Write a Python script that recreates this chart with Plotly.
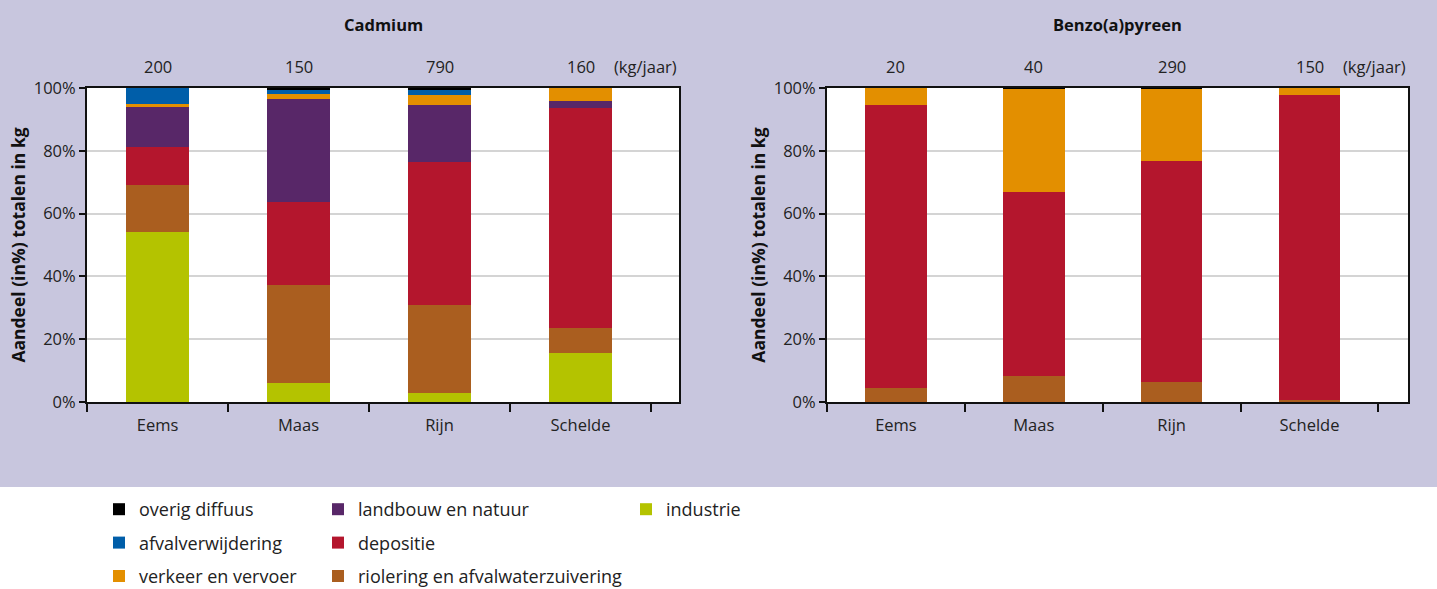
import plotly.graph_objects as go

# ---------------- data ----------------
rivers = ["Eems", "Maas", "Rijn", "Schelde"]
panel_titles = ["Cadmium", "Benzo(a)pyreen"]
cd_totals = ["200", "150", "790", "160"]
bap_totals = ["20", "40", "290", "150"]
unit_label = "(kg/jaar)"
y_title = "Aandeel (in%) totalen in kg"
y_ticks = [0, 20, 40, 60, 80, 100]
y_ticklabels = ["0%", "20%", "40%", "60%", "80%", "100%"]

# Cadmium shares (%) per river
cd_industrie = [54.0, 6.2, 3.0, 15.7]
cd_riolering = [15.0, 31.2, 28.0, 7.9]
cd_depositie = [12.2, 26.2, 45.4, 70.0]
cd_landbouw = [12.7, 32.9, 18.2, 2.2]
cd_verkeer = [1.0, 1.6, 3.2, 4.2]
cd_afval = [5.1, 1.4, 1.7, 0.0]
cd_overig = [0.0, 0.4, 0.4, 0.0]

# Benzo(a)pyreen shares (%) per river
bap_industrie = [0.0, 0.0, 0.0, 0.0]
bap_riolering = [4.4, 8.3, 6.3, 0.5]
bap_depositie = [90.2, 58.5, 70.5, 97.3]
bap_landbouw = [0.0, 0.0, 0.0, 0.0]
bap_verkeer = [5.4, 32.9, 22.9, 2.2]
bap_afval = [0.0, 0.0, 0.0, 0.0]
bap_overig = [0.0, 0.3, 0.3, 0.0]

# series: name, colour, legend, legend rank, cadmium values, bap values (bottom -> top)
series = [
    ("industrie", "#b4c300", "legend3", 1, cd_industrie, bap_industrie),
    ("riolering en afvalwaterzuivering", "#aa5e1f", "legend2", 3, cd_riolering, bap_riolering),
    ("depositie", "#b4162d", "legend2", 2, cd_depositie, bap_depositie),
    ("landbouw en natuur", "#582768", "legend2", 1, cd_landbouw, bap_landbouw),
    ("verkeer en vervoer", "#e38f00", "legend", 3, cd_verkeer, bap_verkeer),
    ("afvalverwijdering", "#005ea9", "legend", 2, cd_afval, bap_afval),
    ("overig diffuus", "#000000", "legend", 1, cd_overig, bap_overig),
]

FONT = "Open Sans"
BAND = "#c8c6de"

fig = go.Figure()
for name, color, lg, rank, cd_vals, bap_vals in series:
    fig.add_trace(go.Bar(x=rivers, y=cd_vals, name=name, marker_color=color,
                         marker_line_width=0, legend=lg, legendgroup=name,
                         legendrank=rank, xaxis="x", yaxis="y", showlegend=True))
    fig.add_trace(go.Bar(x=rivers, y=bap_vals, name=name, marker_color=color,
                         marker_line_width=0, legend=lg, legendgroup=name,
                         legendrank=rank, xaxis="x2", yaxis="y2", showlegend=False))

W, H = 1437, 589
ml, mr, mt, mb = 87, 29, 88, 187
pw = W - ml - mr
ph = H - mt - mb
dom1 = [0, (679 - ml) / pw]
dom2 = [(827 - ml) / pw, 1]


def py(pix):
    """pixel y (from top of page) -> paper y"""
    return (H - mb - pix) / ph


def px(pix):
    return (pix - ml) / pw


xa = dict(type="category", tickson="boundaries", ticks="outside", ticklen=8,
          tickwidth=1.5, tickcolor="#111", showline=True, linecolor="#111",
          linewidth=2, mirror=True, showgrid=False, ticklabelstandoff=7,
          tickfont=dict(family=FONT, size=16.5, color="#222"))
ya = dict(range=[0, 100], tickvals=y_ticks, ticktext=y_ticklabels,
          ticks="outside", ticklen=6, tickwidth=1.5, tickcolor="#111",
          showline=True, linecolor="#111", linewidth=2, mirror=True,
          showgrid=True, gridcolor="#d4d4d4", gridwidth=1.5, zeroline=False,
          tickfont=dict(family=FONT, size=16.5, color="#222"),
          title=dict(text="<b>" + y_title + "</b>", standoff=4,
                     font=dict(family=FONT, size=17.5, color="#111")))

annotations = []
for title, dom in zip(panel_titles, [dom1, dom2]):
    annotations.append(dict(text="<b>" + title + "</b>", xref="paper", yref="paper",
                            x=(dom[0] + dom[1]) / 2, y=py(25), showarrow=False,
                            xanchor="center", yanchor="middle",
                            font=dict(family=FONT, size=16.5, color="#111")))
for xref, totals in [("x", cd_totals), ("x2", bap_totals)]:
    for r, t in zip(rivers, totals):
        annotations.append(dict(text=t, xref=xref, yref="paper", x=r, y=py(67),
                                showarrow=False, xanchor="center", yanchor="middle",
                                font=dict(family=FONT, size=16.5, color="#222")))
    annotations.append(dict(text=unit_label, xref=xref, yref="paper", x=rivers[-1],
                            xshift=65, y=py(66), showarrow=False,
                            xanchor="center", yanchor="middle",
                            font=dict(family=FONT, size=16.5, color="#222")))

leg_common = dict(orientation="v", yanchor="top", xanchor="left",
                  bgcolor="rgba(0,0,0,0)", traceorder="grouped",
                  tracegroupgap=7, itemclick=False,
                  font=dict(family=FONT, size=18, color="#222"))

fig.update_layout(
    width=W, height=H,
    margin=dict(l=ml, r=mr, t=mt, b=mb, autoexpand=False),
    barmode="stack", bargap=0.554,
    paper_bgcolor=BAND, plot_bgcolor="white",
    xaxis=dict(domain=dom1, anchor="y", **xa),
    yaxis=dict(domain=[0, 1], anchor="x", **ya),
    xaxis2=dict(domain=dom2, anchor="y2", **xa),
    yaxis2=dict(domain=[0, 1], anchor="x2", **ya),
    annotations=annotations,
    shapes=[dict(type="rect", xref="paper", yref="paper", layer="below",
                 x0=-0.2, x1=1.2, y0=py(487), y1=-0.8,
                 fillcolor="white", line_width=0)],
    legend=dict(x=px(99), y=py(491), **leg_common),
    legend2=dict(x=px(318), y=py(491), **leg_common),
    legend3=dict(x=px(626), y=py(491), **leg_common),
)

fig.write_html("out.html", config={"displayModeBar": False},
               post_script="document.body.style.margin='0';document.body.style.padding='0';")
